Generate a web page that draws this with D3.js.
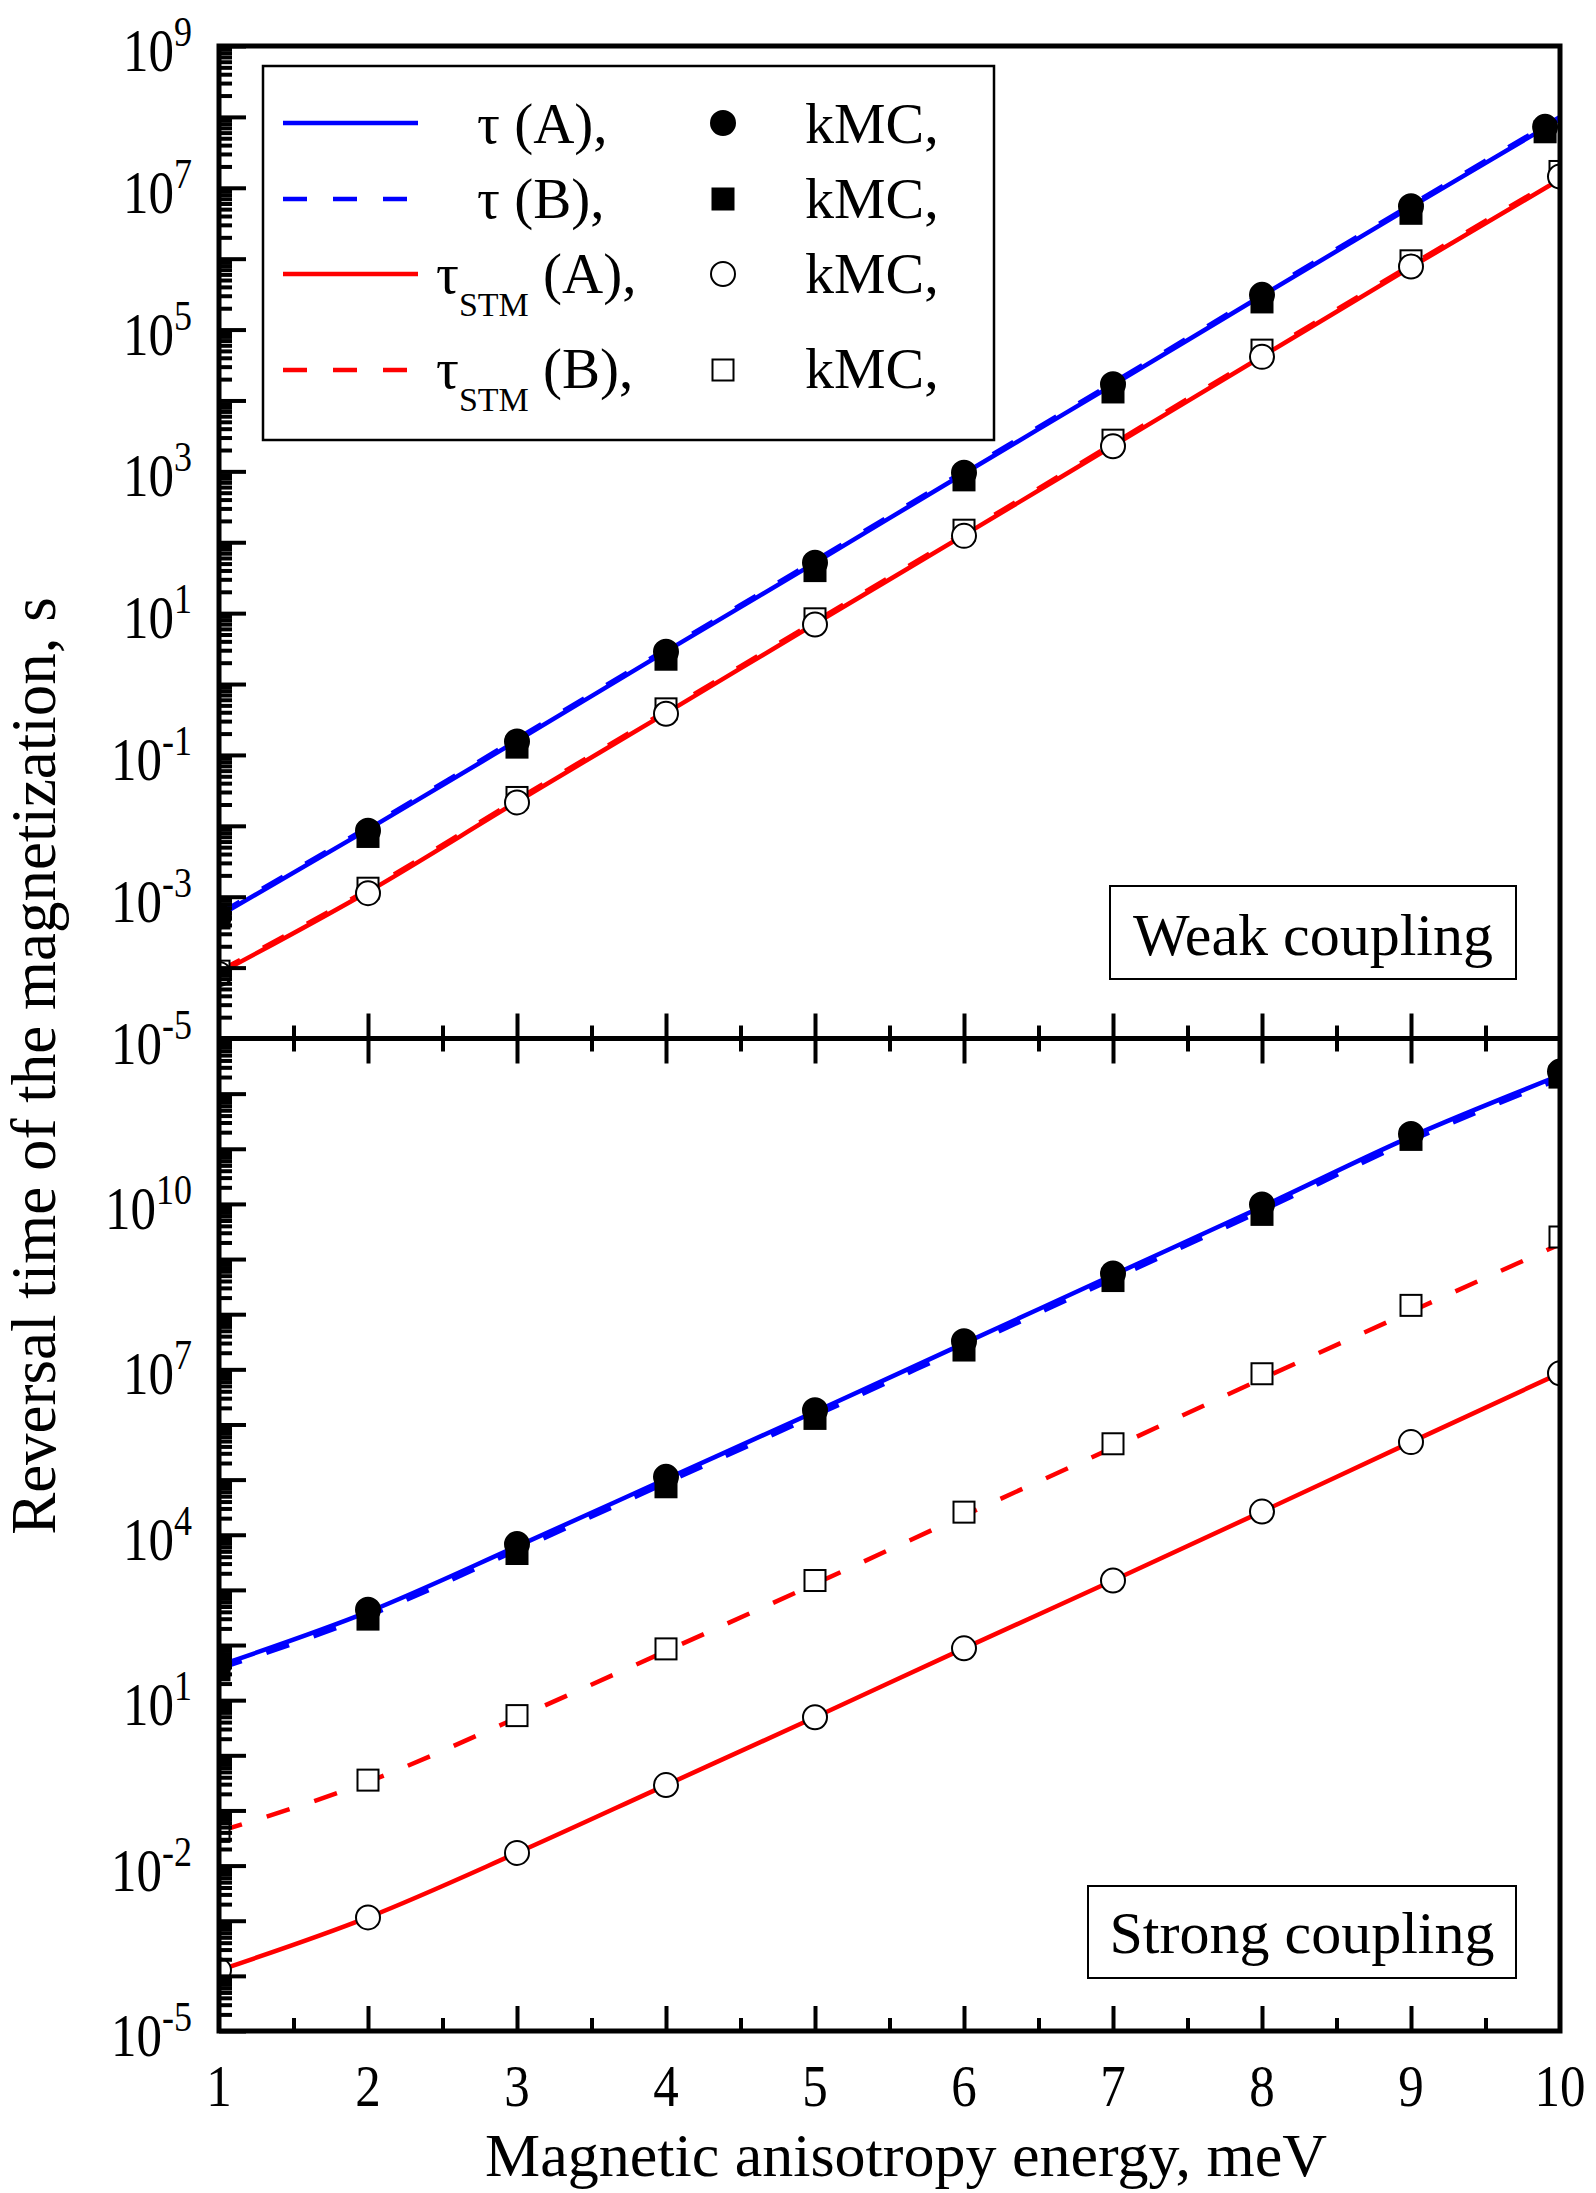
<!DOCTYPE html>
<html>
<head>
<meta charset="utf-8">
<script src="https://d3js.org/d3.v7.min.js"></script>
<style>
body { margin: 0; background: #fff; }
svg text { font-family: "Liberation Serif", "Times New Roman", serif; fill: #000; }
</style>
</head>
<body>
<svg id="chart" width="1596" height="2193"></svg>
<script>
// x values, meV
const energy = [1, 2, 3, 4, 5, 6, 7, 8, 9, 10];
const energyKmcFilledWeak = [1, 2, 3, 4, 5, 6, 7, 8, 9, 9.9];

// all times given as log10(t / s)

// weak coupling (upper panel)
const weakTauA = [-3.27, -2.05, -0.80, 0.46, 1.71, 2.97, 4.22, 5.48, 6.73, 7.97];
const weakTauB = [-3.24, -2.02, -0.77, 0.49, 1.74, 3.00, 4.25, 5.51, 6.76, 8.00];
const weakStmA = [-4.08, -2.93, -1.66, -0.41, 0.85, 2.10, 3.36, 4.62, 5.88, 7.12];
const weakStmB = [-4.05, -2.90, -1.63, -0.38, 0.88, 2.13, 3.39, 4.65, 5.91, 7.15];
const weakKmcA = [-3.28, -2.07, -0.81, 0.455, 1.71, 2.98, 4.23, 5.49, 6.74, 7.86];
const weakKmcB = [-3.30, -2.15, -0.89, 0.35, 1.60, 2.88, 4.12, 5.39, 6.64, 7.79];
const weakKmcStmA = [-4.09, -2.95, -1.67, -0.42, 0.84, 2.09, 3.355, 4.615, 5.89, 7.16];
const weakKmcStmB = [-4.05, -2.88, -1.60, -0.35, 0.92, 2.17, 3.44, 4.71, 5.97, 7.23];

// strong coupling (lower panel)
const strongTauA = [1.63, 2.60, 3.79, 5.01, 6.23, 7.47, 8.71, 9.95, 11.22, 12.33];
const strongTauB = [1.57, 2.53, 3.72, 4.94, 6.16, 7.40, 8.64, 9.88, 11.15, 12.27];
const strongStmA = [-3.90, -2.94, -1.77, -0.54, 0.69, 1.94, 3.17, 4.42, 5.68, 6.93];
const strongStmB = [-1.38, -0.48, 0.68, 1.89, 3.11, 4.35, 5.58, 6.83, 8.05, 9.27];
const strongKmcA = [1.65, 2.64, 3.83, 5.05, 6.26, 7.51, 8.74, 9.99, 11.27, 12.40];
const strongKmcB = [1.55, 2.47, 3.66, 4.87, 6.11, 7.35, 8.61, 9.81, 11.17, 12.30];
const strongKmcStmA = [-3.90, -2.94, -1.77, -0.54, 0.69, 1.94, 3.17, 4.42, 5.68, 6.93];
const strongKmcStmB = [-1.38, -0.45, 0.72, 1.93, 3.17, 4.41, 5.65, 6.92, 8.16, 9.40];

// tick labels (exponents) and x labels
const weakLabelExp = [9, 7, 5, 3, 1, -1, -3, -5];
const strongLabelExp = [10, 7, 4, 1, -2, -5];
const xLabels = [1, 2, 3, 4, 5, 6, 7, 8, 9, 10];

const L = 219, R = 1560, T = 46, M = 1038.5, B = 2031;
const BLUE = "#0000ff", RED = "#ff0000";

const svg = d3.select("#chart");
const x = d3.scaleLinear().domain([1, 10]).range([L, R]);
const yW = d3.scaleLog().domain([1e-5, 1e9]).range([M, T]);
const yS = d3.scaleLog().domain([1e-5, 1e13]).range([B, M]);
const p10 = v => Math.pow(10, v);

const defs = svg.append("defs");
defs.append("clipPath").attr("id", "clipW")
  .append("rect").attr("x", L).attr("y", T).attr("width", R - L).attr("height", M - T);
defs.append("clipPath").attr("id", "clipS")
  .append("rect").attr("x", L).attr("y", M).attr("width", R - L).attr("height", B - M);

function pts(xs, ys) { return xs.map((e, i) => [e, p10(ys[i])]); }

function drawPanel(y, clip, lines, marks) {
  const g = svg.append("g").attr("clip-path", `url(#${clip})`);
  const line = d3.line().x(d => x(d[0])).y(d => y(d[1])).curve(d3.curveMonotoneX);
  lines.forEach(s => {
    g.append("path").datum(pts(energy, s.v))
      .attr("fill", "none").attr("stroke", s.c).attr("stroke-width", 4.5)
      .attr("stroke-dasharray", s.dash ? "24,26" : null)
      .attr("d", line);
  });
  marks.forEach(s => {
    const data = pts(s.x, s.v);
    if (s.shape === "square") {
      g.selectAll(null).data(data).enter().append("rect")
        .attr("x", d => x(d[0]) - 10.5).attr("y", d => y(d[1]) - 10.5)
        .attr("width", 21).attr("height", 21)
        .attr("fill", s.filled ? "#000" : "#fff")
        .attr("stroke", "#000").attr("stroke-width", 2);
    } else {
      g.selectAll(null).data(data).enter().append("circle")
        .attr("cx", d => x(d[0])).attr("cy", d => y(d[1])).attr("r", 12)
        .attr("fill", s.filled ? "#000" : "#fff")
        .attr("stroke", "#000").attr("stroke-width", 2);
    }
  });
}

drawPanel(yW, "clipW",
  [
    { v: weakStmA, c: RED }, { v: weakStmB, c: RED, dash: true },
    { v: weakTauA, c: BLUE }, { v: weakTauB, c: BLUE, dash: true }
  ],
  [
    { x: energyKmcFilledWeak, v: weakKmcB, shape: "square", filled: true },
    { x: energyKmcFilledWeak, v: weakKmcA, shape: "circle", filled: true },
    { x: energy, v: weakKmcStmB, shape: "square", filled: false },
    { x: energy, v: weakKmcStmA, shape: "circle", filled: false }
  ]);

drawPanel(yS, "clipS",
  [
    { v: strongStmA, c: RED }, { v: strongStmB, c: RED, dash: true },
    { v: strongTauA, c: BLUE }, { v: strongTauB, c: BLUE, dash: true }
  ],
  [
    { x: energy, v: strongKmcB, shape: "square", filled: true },
    { x: energy, v: strongKmcA, shape: "circle", filled: true },
    { x: energy, v: strongKmcStmB, shape: "square", filled: false },
    { x: energy, v: strongKmcStmA, shape: "circle", filled: false }
  ]);

// ---- ticks ----
function decadeTicks(lo, hi) {
  const major = [], minor = [];
  for (let k = lo; k <= hi; k++) {
    major.push(p10(k));
    if (k < hi) for (let m = 2; m <= 9; m++) minor.push(m * p10(k));
  }
  return { major, minor };
}
function styleAxis(g, w) {
  g.select(".domain").remove();
  g.selectAll(".tick line").attr("stroke", "#000").attr("stroke-width", w);
  g.selectAll(".tick text").remove();
}

[[yW, -5, 9], [yS, -5, 13]].forEach(([y, lo, hi]) => {
  const t = decadeTicks(lo, hi);
  svg.append("g").attr("transform", `translate(${L},0)`)
    .call(d3.axisRight(y).tickValues(t.major).tickSize(27).tickSizeOuter(0))
    .call(g => styleAxis(g, 4));
  svg.append("g").attr("transform", `translate(${L},0)`)
    .call(d3.axisRight(y).tickValues(t.minor).tickSize(13).tickSizeOuter(0))
    .call(g => styleAxis(g, 4));
});

const xMajor = [2, 3, 4, 5, 6, 7, 8, 9];
const xMinor = [1.5, 2.5, 3.5, 4.5, 5.5, 6.5, 7.5, 8.5, 9.5];
[[d3.axisTop, M], [d3.axisBottom, M], [d3.axisTop, B]].forEach(([ax, yy]) => {
  svg.append("g").attr("transform", `translate(0,${yy})`)
    .call(ax(x).tickValues(xMajor).tickSize(25).tickSizeOuter(0))
    .call(g => styleAxis(g, 4));
  svg.append("g").attr("transform", `translate(0,${yy})`)
    .call(ax(x).tickValues(xMinor).tickSize(13).tickSizeOuter(0))
    .call(g => styleAxis(g, 4));
});

// frame
svg.append("rect").attr("x", L).attr("y", T).attr("width", R - L).attr("height", B - T)
  .attr("fill", "none").attr("stroke", "#000").attr("stroke-width", 5);
svg.append("line").attr("x1", L).attr("x2", R).attr("y1", M).attr("y2", M)
  .attr("stroke", "#000").attr("stroke-width", 5);

// ---- tick labels ----
const SY = 1.2;
function yLabels(y, exps) {
  exps.forEach(k => {
    const t = svg.append("text")
      .attr("transform", `translate(192,${y(p10(k)) + 25}) scale(1,${SY})`)
      .attr("text-anchor", "end");
    t.append("tspan").attr("font-size", 51).text("10");
    t.append("tspan").attr("font-size", 36).attr("dy", -25 / SY).text(String(k));
  });
}
yLabels(yW, weakLabelExp);
yLabels(yS, strongLabelExp);

xLabels.forEach(v => {
  svg.append("text")
    .attr("transform", `translate(${x(v)},2106) scale(1,1.17)`)
    .attr("text-anchor", "middle").attr("font-size", 51).text(v);
});

// axis titles
svg.append("text")
  .attr("transform", "translate(906,2176)")
  .attr("text-anchor", "middle").attr("font-size", 62)
  .text("Magnetic anisotropy energy, meV");
svg.append("text")
  .attr("transform", "translate(55,1066) rotate(-90)")
  .attr("text-anchor", "middle").attr("font-size", 63)
  .text("Reversal time of the magnetization, s");

// ---- legend ----
const legend = svg.append("g");
legend.append("rect").attr("x", 263).attr("y", 66).attr("width", 731).attr("height", 374)
  .attr("fill", "#fff").attr("stroke", "#000").attr("stroke-width", 2.5);

const legendRows = [
  { y: 123, base: 143, c: BLUE, dash: false, main: "τ (A),", sub: null, shape: "circle", filled: true },
  { y: 199, base: 218, c: BLUE, dash: true, main: "τ (B),", sub: null, shape: "square", filled: true },
  { y: 274, base: 293, c: RED, dash: false, main: " (A),", sub: "STM", shape: "circle", filled: false },
  { y: 370, base: 388, c: RED, dash: true, main: " (B),", sub: "STM", shape: "square", filled: false }
];
legendRows.forEach(r => {
  legend.append("line").attr("x1", 283).attr("x2", 418).attr("y1", r.y).attr("y2", r.y)
    .attr("stroke", r.c).attr("stroke-width", 4.5)
    .attr("stroke-dasharray", r.dash ? "24,26" : null);
  if (r.sub) {
    const t = legend.append("text").attr("x", 436).attr("y", r.base).attr("font-size", 57);
    t.append("tspan").text("τ");
    t.append("tspan").attr("font-size", 34).attr("dy", 23).text(r.sub);
    t.append("tspan").attr("dy", -23).text(r.main);
  } else {
    legend.append("text").attr("x", 477).attr("y", r.base).attr("font-size", 57).text(r.main);
  }
  if (r.shape === "circle") {
    legend.append("circle").attr("cx", 723).attr("cy", r.y).attr("r", 12)
      .attr("fill", r.filled ? "#000" : "#fff").attr("stroke", "#000").attr("stroke-width", 2);
  } else {
    legend.append("rect").attr("x", 712.5).attr("y", r.y - 10.5).attr("width", 21).attr("height", 21)
      .attr("fill", r.filled ? "#000" : "#fff").attr("stroke", "#000").attr("stroke-width", 2);
  }
  legend.append("text").attr("x", 805).attr("y", r.base).attr("font-size", 58).text("kMC,");
});

// ---- panel captions ----
[["Weak coupling", 1110, 886, 406, 93, 955], ["Strong coupling", 1088, 1886, 428, 92, 1953]]
  .forEach(([txt, bx, by, bw, bh, base]) => {
    svg.append("rect").attr("x", bx).attr("y", by).attr("width", bw).attr("height", bh)
      .attr("fill", "#fff").attr("stroke", "#000").attr("stroke-width", 2);
    svg.append("text").attr("x", bx + bw / 2).attr("y", base)
      .attr("text-anchor", "middle").attr("font-size", 60).text(txt);
  });
</script>
</body>
</html>
